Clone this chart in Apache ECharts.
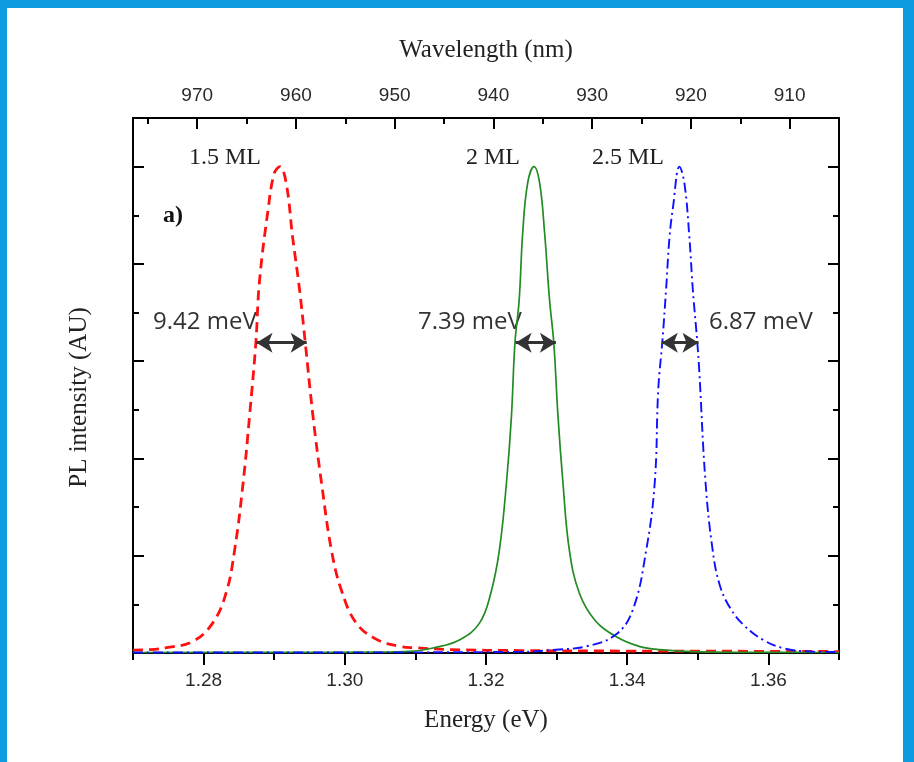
<!DOCTYPE html>
<html>
<head>
<meta charset="utf-8">
<title>PL spectra</title>
<script src="https://cdn.jsdelivr.net/npm/echarts@6/dist/echarts.min.js"></script>
<style>
  html, body { margin: 0; padding: 0; background: #fff; }
  #main { width: 914px; height: 762px; }
</style>
</head>
<body>
<div id="main"></div>
<script>
  // spectra: [energy (eV), intensity (AU)]
  var ml15 = [
    [1.2700, 0.03], [1.2723, 0.034], [1.2747, 0.054], [1.2785, 0.12], [1.2813, 0.31],
    [1.2832, 0.62], [1.2844, 1.06], [1.2856, 1.75], [1.2865, 2.43], [1.2874, 3.19],
    [1.2879, 3.81], [1.2891, 4.54], [1.2900, 4.93], [1.2908, 5.0], [1.2917, 4.83],
    [1.2926, 4.28], [1.2936, 3.73], [1.2944, 3.19], [1.2955, 2.43], [1.2967, 1.75],
    [1.2981, 1.06], [1.2995, 0.65], [1.3016, 0.31], [1.3045, 0.14], [1.3078, 0.068],
    [1.3101, 0.054], [1.3150, 0.035], [1.3250, 0.025], [1.3400, 0.02], [1.3550, 0.018],
    [1.3700, 0.015]
  ];
  var ml20 = [
    [1.2700, 0.005], [1.2900, 0.006], [1.3050, 0.01], [1.3092, 0.016], [1.3125, 0.051],
    [1.3163, 0.137], [1.3191, 0.31], [1.3207, 0.62], [1.3219, 1.06], [1.3229, 1.75],
    [1.3236, 2.43], [1.3241, 3.19], [1.3247, 3.63], [1.3252, 4.32], [1.3259, 4.83],
    [1.3268, 5.0], [1.3276, 4.83], [1.3283, 4.32], [1.3290, 3.63], [1.3296, 3.19],
    [1.3302, 2.43], [1.3309, 1.75], [1.3318, 1.06], [1.3332, 0.62], [1.3354, 0.34],
    [1.3384, 0.17], [1.3417, 0.068], [1.3446, 0.034], [1.3502, 0.012], [1.3600, 0.006],
    [1.3700, 0.005]
  ];
  var ml25 = [
    [1.2700, 0.005], [1.3000, 0.006], [1.3250, 0.012], [1.3299, 0.034], [1.3342, 0.068],
    [1.3384, 0.19], [1.3408, 0.445], [1.3427, 1.06], [1.3439, 1.75], [1.3444, 2.71],
    [1.3450, 3.22], [1.3455, 3.73], [1.3460, 4.28], [1.3465, 4.59], [1.3474, 5.0],
    [1.3481, 4.83], [1.3488, 4.28], [1.3493, 3.73], [1.3499, 3.22], [1.3502, 2.91],
    [1.3511, 1.75], [1.3521, 1.06], [1.3531, 0.70], [1.3546, 0.46], [1.3566, 0.28],
    [1.3592, 0.137], [1.3620, 0.051], [1.3658, 0.016], [1.3700, 0.01]
  ];

  // FWHM arrows: [from eV, to eV], drawn at one intensity level
  var arrowLevel = 3.19;
  var arrowSpans = [[1.2875, 1.2946], [1.3242, 1.3299], [1.3449, 1.3501]];

  // ticks
  var energyMajor = [1.28, 1.30, 1.32, 1.34, 1.36];
  var energyMinor = [1.27, 1.29, 1.31, 1.33, 1.35, 1.37];
  var waveMajor = [970, 960, 950, 940, 930, 920, 910];
  var waveMinor = [975, 965, 955, 945, 935, 925, 915];
  var yMajor = [1, 2, 3, 4, 5];
  var yMinor = [0.5, 1.5, 2.5, 3.5, 4.5];

  var myChart = echarts.init(document.getElementById('main'));

  var tickFont = { color: '#2a2a2a', fontFamily: 'Liberation Sans', fontSize: 19 };
  var nameFont = { color: '#222', fontFamily: 'Liberation Serif', fontSize: 25 };
  var frame = { show: true, onZero: false, lineStyle: { color: '#000', width: 2 } };
  var noLine = { show: false, onZero: false };

  function xAx(pos, mn, mx, major, minor, tickLen, inside, withLabels, extra) {
    var a = {
      type: 'value', position: pos, min: mn, max: mx,
      splitLine: { show: false },
      axisLine: minor ? noLine : frame,
      axisTick: { show: true, inside: inside, length: tickLen, customValues: minor || major,
        lineStyle: { color: '#000', width: 2 } },
      axisLabel: withLabels ? Object.assign({
        customValues: major, margin: pos === 'top' ? 13 : 18,
        formatter: function (v) { return pos === 'top' ? String(Math.round(v)) : v.toFixed(2); }
      }, tickFont) : { show: false }
    };
    return Object.assign(a, extra || {});
  }

  function yAx(pos, major, minor, tickLen) {
    return {
      type: 'value', position: pos, min: 0, max: 5.5,
      splitLine: { show: false },
      axisLine: minor ? noLine : frame,
      axisTick: { show: true, inside: true, length: tickLen, customValues: minor || major,
        lineStyle: { color: '#000', width: 2 } },
      axisLabel: { show: false }
    };
  }

  var arrowLines = arrowSpans.map(function (s) {
    return [{ coord: [s[0], arrowLevel] }, { coord: [s[1], arrowLevel] }];
  });

  var option = {
    animation: false,
    grid: { left: 133, top: 118, width: 706, height: 535 },
    xAxis: [
      xAx('bottom', 1.27, 1.37, energyMajor, null, 12, false, true,
        { name: 'Energy (eV)', nameLocation: 'middle', nameGap: 55, nameTextStyle: nameFont }),
      xAx('bottom', 1.27, 1.37, null, energyMinor, 7, false, false),
      xAx('top', 905, 976.5, waveMajor, null, 11, true, true,
        { inverse: true, name: 'Wavelength (nm)', nameLocation: 'middle', nameGap: 55, nameTextStyle: nameFont }),
      xAx('top', 905, 976.5, null, waveMinor, 6, true, false, { inverse: true })
    ],
    yAxis: [
      Object.assign(yAx('left', yMajor, null, 11),
        { name: 'PL intensity (AU)', nameLocation: 'middle', nameGap: 41,
          nameTextStyle: Object.assign({ padding: [0, 24, 0, 0] }, nameFont) }),
      yAx('left', null, yMinor, 6),
      yAx('right', yMajor, null, 11),
      yAx('right', null, yMinor, 6)
    ],
    series: [
      {
        name: '1.5 ML', type: 'line', data: ml15, showSymbol: false, smooth: 0.4,
        lineStyle: { color: '#ff1010', width: 2.8, type: [10, 6] }
      },
      {
        name: '2 ML', type: 'line', data: ml20, showSymbol: false, smooth: 0.4,
        lineStyle: { color: '#228b22', width: 1.7 }
      },
      {
        name: '2.5 ML', type: 'line', data: ml25, showSymbol: false, smooth: 0.4,
        lineStyle: { color: '#1010ff', width: 1.9, type: [10, 4, 2, 4] },
        markLine: {
          silent: true, symbol: ['arrow', 'arrow'], symbolSize: [15, 16],
          label: { show: false },
          lineStyle: { color: '#333', width: 3, type: 'solid' },
          data: arrowLines
        }
      }
    ],
    graphic: [
      { type: 'rect', shape: { x: 0, y: 0, width: 914, height: 8 }, style: { fill: '#0f9be0' } },
      { type: 'rect', shape: { x: 0, y: 0, width: 7, height: 762 }, style: { fill: '#0f9be0' } },
      { type: 'rect', shape: { x: 903, y: 0, width: 11, height: 762 }, style: { fill: '#0f9be0' } },
      { type: 'text', left: 189, top: 146, style: { text: '1.5 ML', font: '24px "Liberation Serif"', fill: '#222' } },
      { type: 'text', left: 466, top: 146, style: { text: '2 ML', font: '24px "Liberation Serif"', fill: '#222' } },
      { type: 'text', left: 592, top: 146, style: { text: '2.5 ML', font: '24px "Liberation Serif"', fill: '#222' } },
      { type: 'text', left: 163, top: 204, style: { text: 'a)', font: 'bold 24px "Liberation Serif"', fill: '#111' } },
      { type: 'text', left: 153, top: 310, style: { text: '9.42 meV', font: '24px "Open Sans"', fill: '#333' } },
      { type: 'text', left: 418, top: 310, style: { text: '7.39 meV', font: '24px "Open Sans"', fill: '#333' } },
      { type: 'text', left: 709, top: 310, style: { text: '6.87 meV', font: '24px "Open Sans"', fill: '#333' } }
    ]
  };

  myChart.setOption(option);
</script>
</body>
</html>
